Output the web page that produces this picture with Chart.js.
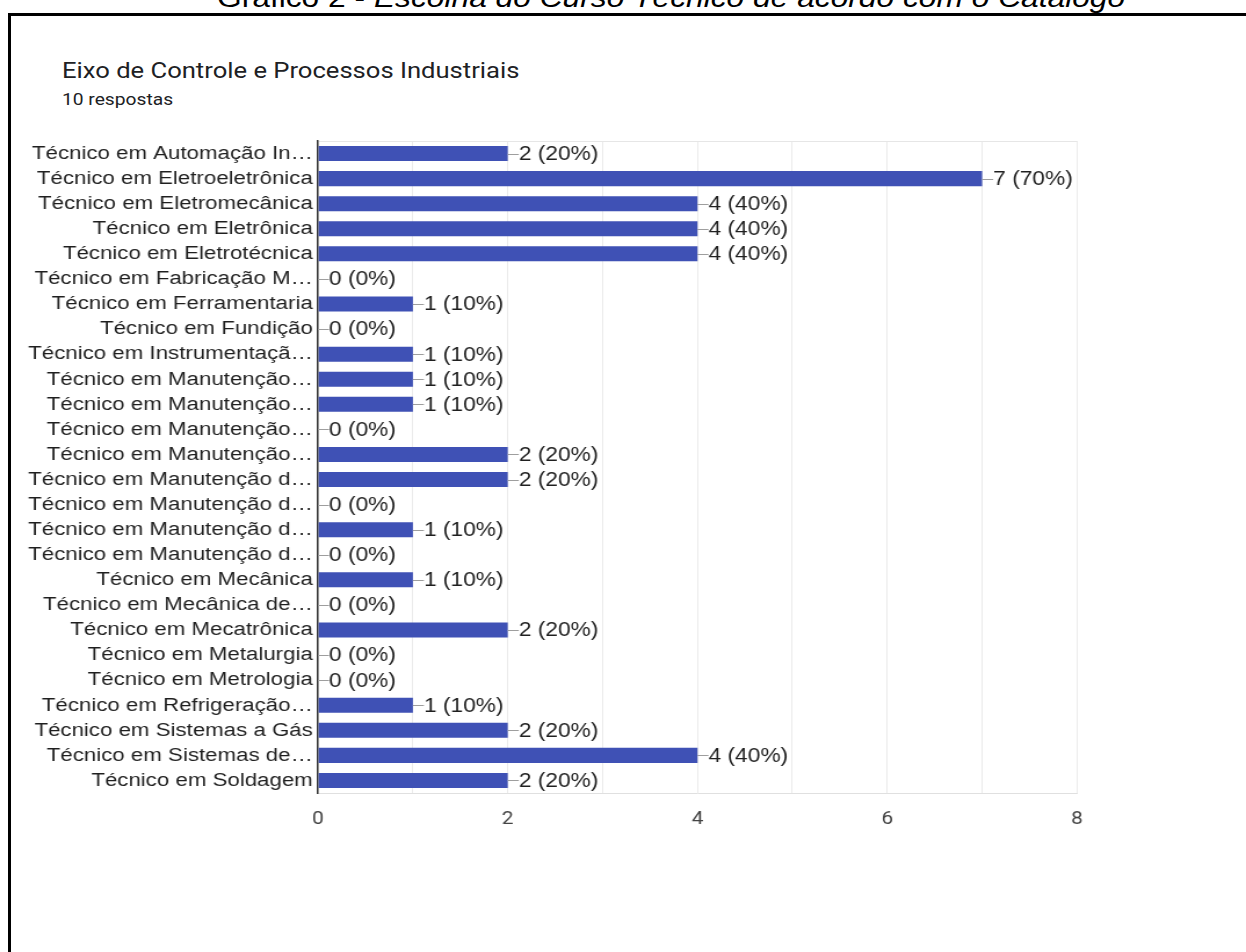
<!DOCTYPE html>
<html>
<head>
<meta charset="utf-8">
<script src="https://cdn.jsdelivr.net/npm/chart.js@4.4.1/dist/chart.umd.min.js"></script>
<style>
  html, body { margin:0; padding:0; background:#fff; width:1246px; height:952px; overflow:hidden; }
  #wrap { position:relative; width:1246px; height:952px; }
  #frame { position:absolute; left:8px; top:13px; width:1246px; height:960px; border-left:3px solid #000; border-top:3px solid #000; box-sizing:border-box; }
  .stretch { transform-origin:0 0; white-space:nowrap; position:absolute; }
  #doctitle { left:217px; top:-14.9px; font-family:"Liberation Sans", Arial, sans-serif; font-size:27px; line-height:27px; color:#000; transform:scaleX(1.175); }
  #doctitle i { font-style:italic; }
  #ctitle { left:62px; top:59.8px; font-family:Roboto, sans-serif; font-size:21.5px; line-height:21.5px; color:#202124; transform:scaleX(1.19); }
  #csub { left:62px; top:92px; font-family:Roboto, sans-serif; font-size:16px; line-height:16px; color:#202124; transform:scaleX(1.2); }
  canvas { position:absolute; left:0; top:0; }
</style>
</head>
<body>
<div id="wrap">
  <div id="doctitle" class="stretch">Gráfico 2 - <i>Escolha do Curso Técnico de acordo com o Catálogo</i></div>
  <div id="frame"></div>
  <div id="ctitle" class="stretch">Eixo de Controle e Processos Industriais</div>
  <div id="csub" class="stretch">10 respostas</div>
  <canvas id="c" width="1074" height="952" style="width:1246px;height:952px"></canvas>
</div>
<script>
const categories = [
  "Técnico em Automação In…",
  "Técnico em Eletroeletrônica",
  "Técnico em Eletromecânica",
  "Técnico em Eletrônica",
  "Técnico em Eletrotécnica",
  "Técnico em Fabricação M…",
  "Técnico em Ferramentaria",
  "Técnico em Fundição",
  "Técnico em Instrumentaçã…",
  "Técnico em Manutenção…",
  "Técnico em Manutenção…",
  "Técnico em Manutenção…",
  "Técnico em Manutenção…",
  "Técnico em Manutenção d…",
  "Técnico em Manutenção d…",
  "Técnico em Manutenção d…",
  "Técnico em Manutenção d…",
  "Técnico em Mecânica",
  "Técnico em Mecânica de…",
  "Técnico em Mecatrônica",
  "Técnico em Metalurgia",
  "Técnico em Metrologia",
  "Técnico em Refrigeração…",
  "Técnico em Sistemas a Gás",
  "Técnico em Sistemas de…",
  "Técnico em Soldagem"
];
const responses = [2, 7, 4, 4, 4, 0, 1, 0, 1, 1, 1, 0, 2, 2, 0, 1, 0, 1, 0, 2, 0, 0, 1, 2, 4, 2];
const totalRespondents = 10;
const xTicks = [0, 2, 4, 6, 8];

const labelFont = '"Liberation Sans", Arial, sans-serif';
// canvas is drawn 1074px wide and displayed 1246px wide (horizontal stretch as in the reference)
const SX = 1246 / 1074;

const valueLabels = {
  id: 'valueLabels',
  afterDatasetsDraw(chart) {
    const ctx = chart.ctx;
    const meta = chart.getDatasetMeta(0);
    ctx.save();
    ctx.font = '19.6px ' + labelFont;
    ctx.textBaseline = 'middle';
    ctx.textAlign = 'left';
    meta.data.forEach((el, i) => {
      const v = responses[i];
      const x = el.x, y = el.y;
      ctx.strokeStyle = '#9e9e9e';
      ctx.lineWidth = 1;
      ctx.beginPath();
      ctx.moveTo(x, Math.round(y) + 0.5);
      ctx.lineTo(x + 9.5, Math.round(y) + 0.5);
      ctx.stroke();
      ctx.fillStyle = '#1f1f1f';
      const pct = Math.round(v / totalRespondents * 100);
      ctx.fillText(v + ' (' + pct + '%)', x + 9.5, y + 1);
    });
    ctx.restore();
  }
};

new Chart(document.getElementById('c'), {
  type: 'bar',
  data: {
    labels: categories,
    datasets: [{
      data: responses,
      backgroundColor: '#3f51b5',
      borderWidth: 0,
      barPercentage: 0.6,
      categoryPercentage: 1.0
    }]
  },
  options: {
    indexAxis: 'y',
    responsive: false,
    animation: false,
    events: [],
    devicePixelRatio: 1,
    layout: { padding: { top: 141, right: 169 / SX, bottom: 0, left: 0 } },
    plugins: { legend: { display: false }, tooltip: { enabled: false }, title: { display: false } },
    scales: {
      x: {
        min: 0, max: 8,
        ticks: {
          stepSize: 1,
          autoSkip: false,
          maxRotation: 0,
          padding: 16,
          color: '#444',
          font: { family: 'Roboto, sans-serif', size: 18 },
          callback: (v) => xTicks.includes(v) ? String(v) : ''
        },
        grid: { color: '#ebebeb', drawTicks: false, lineWidth: 1 },
        border: { display: true, color: '#e0e0e0', width: 1 },
        afterFit: (s) => { s.height = 159; }
      },
      y: {
        ticks: {
          autoSkip: false,
          padding: 4.5,
          color: '#1f1f1f',
          font: { family: labelFont, size: 19.2 }
        },
        grid: {
          drawTicks: false,
          color: (c) => c.index === 0 ? '#e6e6e6' : 'rgba(0,0,0,0)'
        },
        border: { display: true, color: '#333', width: 1.5 },
        afterFit: (s) => { s.width = 318 / SX; }
      }
    }
  },
  plugins: [valueLabels]
});
</script>
</body>
</html>
